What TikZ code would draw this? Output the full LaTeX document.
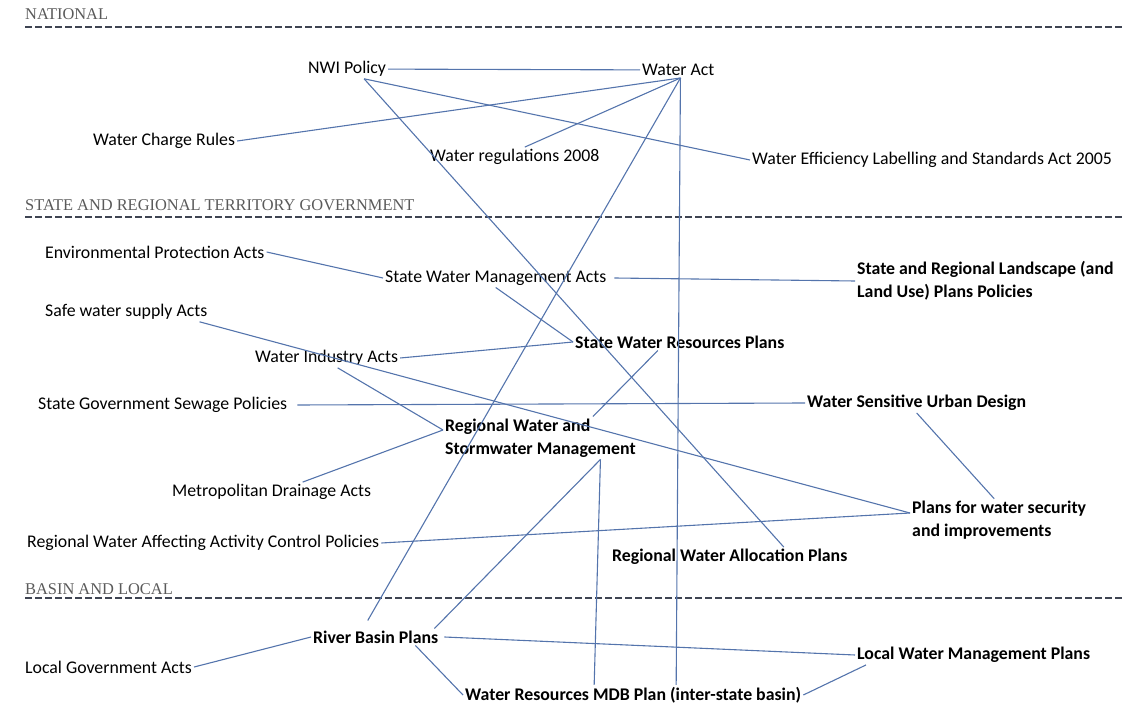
\documentclass[tikz,border=0pt]{standalone}
\usepackage{fontspec}
\setmainfont{Carlito}
\newfontfamily\headfont{Liberation Serif}
\usetikzlibrary{positioning}
\definecolor{LinkBlue}{RGB}{84,116,172}
\definecolor{HeadGray}{RGB}{90,90,90}
\definecolor{RuleGray}{RGB}{62,68,82}
\tikzset{
  link/.style={draw=LinkBlue,line width=1.1pt},
  item/.style={anchor=west,inner sep=2pt,font=\fontsize{17.8}{23}\selectfont,align=left},
  keyitem/.style={item,font=\fontsize{17.8}{23}\selectfont\bfseries},
  level/.style={anchor=west,inner sep=0pt,text=HeadGray,font=\headfont\fontsize{16.4}{18}\selectfont},
  divider/.style={draw=RuleGray,line width=2.8pt,dash pattern=on 7pt off 3pt}
}
\begin{document}
\begin{tikzpicture}[x=1pt,y=-1pt]
  \useasboundingbox (0,0) rectangle (1125,708);
  % levels
  \node[level] (lnat) at (25,14) {NATIONAL};
  \node[level] (lstate) at (25,205) {STATE AND REGIONAL TERRITORY GOVERNMENT};
  \node[level] (lbasin) at (25,589) {BASIN AND LOCAL};
  \coordinate (r1) at (1125,27);
  \coordinate (r2) at (1125,217);
  \coordinate (r3) at (1125,598);
  \draw[divider] (lnat.west |- r1) -- (r1);
  \draw[divider] (lstate.west |- r2) -- (r2);
  \draw[divider] (lbasin.west |- r3) -- (r3);
  % national
  \node[item] (nwi) at (306,69) {NWI Policy};
  \node[item] (wact) at (640,70) {Water Act};
  \node[item] (wcr) at (91,141) {Water Charge Rules};
  \node[item] (wreg) at (428,157) {Water regulations 2008};
  \node[item] (wels) at (750,160) {Water Efficiency Labelling and Standards Act 2005};
  % state and regional
  \node[item] (epa) at (43,252) {Environmental Protection Acts};
  \node[item] (swma) at (383,278) {State Water Management Acts};
  \node[keyitem] (lsp) at (855,281) {State and Regional Landscape (and\\Land Use) Plans Policies};
  \node[item] (sws) at (43,312) {Safe water supply Acts};
  \node[item] (wia) at (253,358) {Water Industry Acts};
  \node[keyitem] (swrp) at (573,342) {State Water Resources Plans};
  \node[item] (sgs) at (36,405) {State Government Sewage Policies};
  \node[keyitem] (wsud) at (805,403) {Water Sensitive Urban Design};
  \node[keyitem] (rws) at (443,438) {Regional Water and\\Stormwater Management};
  \node[item] (mda) at (170,492) {Metropolitan Drainage Acts};
  \node[keyitem] (pws) at (910,520) {Plans for water security\\and improvements};
  \node[item] (rwa) at (25,543) {Regional Water Affecting Activity Control Policies};
  \node[keyitem] (ralloc) at (610,557) {Regional Water Allocation Plans};
  % basin and local
  \node[keyitem] (rbp) at (311,637) {River Basin Plans};
  \node[item] (lga) at (23,667) {Local Government Acts};
  \node[keyitem] (lwmp) at (855,655) {Local Water Management Plans};
  \node[keyitem] (mdb) at (463,695) {Water Resources MDB Plan (inter-state basin)};
  % links
  \draw[link] (nwi) -- (wact);
  \draw[link] (nwi.-30) -- (wels.west);
  \draw[link] (nwi.-30) -- ([xshift=54pt]ralloc.north);
  \draw[link] (wact.-75) -- (wcr.east);
  \draw[link] (wact.-75) -- ([xshift=10pt]wreg.north);
  \draw[link] (wact.-75) -- ([xshift=-8pt,yshift=8pt]rbp.north);
  \draw[link] (wact.-75) -- ([xshift=43pt]mdb.north);
  \draw[link] (epa.east) -- (swma.west);
  \draw[link] ([xshift=6pt]swma.east) -- (lsp.west);
  \draw[link] (swma.south) -- (swrp.west);
  \draw[link] ([xshift=-10pt]sws.south east) -- ([yshift=7pt]pws.west);
  \draw[link] (wia.east) -- (swrp.west);
  \draw[link] ([xshift=11pt]wia.south) -- ([yshift=8pt]rws.west);
  \draw[link] ([xshift=31pt]mda.north) -- ([yshift=8pt]rws.west);
  \draw[link] ([xshift=8pt]sgs.east) -- (wsud.west);
  \draw[link] (wsud.south) -- ([xshift=-5pt]pws.north);
  \draw[link] (rwa.east) -- ([yshift=7pt]pws.west);
  \draw[link] ([xshift=-22pt]swrp.south) -- ([xshift=-45pt]rws.north east);
  \draw[link] ([xshift=60pt]rws.south) -- ([xshift=-6pt]rbp.north east);
  \draw[link] ([xshift=60pt]rws.south) -- ([xshift=-39pt]mdb.north);
  \draw[link] (lga.east) -- (rbp.west);
  \draw[link] ([xshift=4pt]rbp.east) -- (lwmp.west);
  \draw[link] ([xshift=-25pt]rbp.south east) -- (mdb.west);
  \draw[link] (mdb.east) -- ([xshift=11pt]lwmp.south west);
\end{tikzpicture}
\end{document}
